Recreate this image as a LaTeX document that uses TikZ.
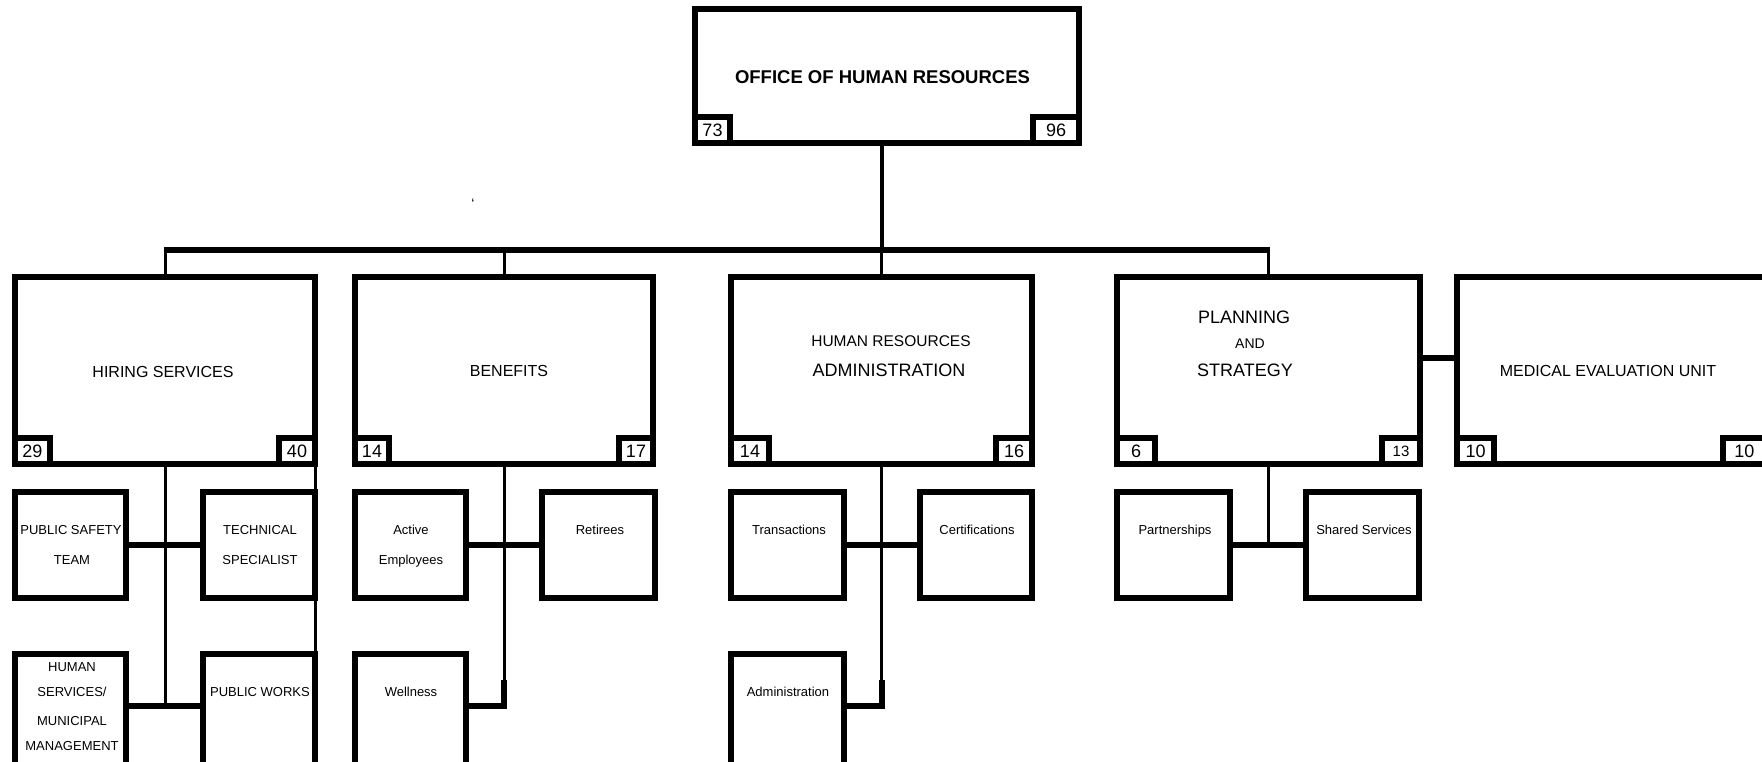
\documentclass[tikz,border=0pt]{standalone}
\usepackage{fontspec}
\setmainfont{Liberation Sans}
\begin{document}
\begin{tikzpicture}[x=1pt,y=-1pt,
  orgbox/.style={draw, line width=6pt, rectangle, inner sep=0pt, outer sep=0pt},
  unitbox/.style={orgbox, minimum height=187pt},
  subbox/.style={orgbox, minimum height=106pt},
  lowbox/.style={orgbox, minimum height=112pt},
  tally/.style={orgbox, minimum height=26pt, font=\fontsize{18}{18}\selectfont},
  lbl/.style={inner sep=0pt, anchor=base, font=\fontsize{#1}{#1}\selectfont},
  riser/.style={line width=4pt},
  dropline/.style={line width=3pt},
  busline/.style={line width=6pt, shorten <=-1.5pt, shorten >=-1.5pt},
  joinline/.style={line width=6pt},
]
\useasboundingbox (0,0) rectangle (1762,762);
\clip (0,0) rectangle (1762,762);

% ---- head office ----
\node[orgbox, minimum width=384pt, minimum height=134pt] (ohr) at (887,76) {};
\node[lbl=18.5] (ohr-t) at (882.5,83.6) {\bfseries OFFICE OF HUMAN RESOURCES};
\node[tally, minimum width=35pt, anchor=south west] (ohr-l) at (ohr.south west) {73};
\node[tally, minimum width=46pt, anchor=south east] (ohr-r) at (ohr.south east) {96};

% ---- divisions ----
\node[unitbox, minimum width=300pt] (hs) at (165,370.5) {};
\node[unitbox, minimum width=298pt] (bf) at (504,370.5) {};
\node[unitbox, minimum width=301pt] (ha) at (881.5,370.5) {};
\node[unitbox, minimum width=303pt] (ps) at (1268.5,370.5) {};
\node[unitbox, minimum width=309pt] (me) at (1611.5,370.5) {};

\node[lbl=16] (hs-t) at (163,377.7) {HIRING SERVICES};
\node[lbl=16] (bf-t) at (509,376.7) {BENEFITS};
\node[lbl=15.5] (ha-t1) at (891,346.5) {HUMAN RESOURCES};
\node[lbl=18] (ha-t2) at (889,376.4) {ADMINISTRATION};
\node[lbl=18] (ps-t1) at (1244,323.4) {PLANNING};
\node[lbl=14] (ps-t2) at (1250,348) {AND};
\node[lbl=18] (ps-t3) at (1245,376.4) {STRATEGY};
\node[lbl=16] (me-t) at (1608,376.7) {MEDICAL EVALUATION UNIT};

\node[tally, minimum width=35pt, anchor=south west] (hs-l) at (hs.south west) {29};
\node[tally, minimum width=36pt, anchor=south east] (hs-r) at (hs.south east) {40};
\node[tally, minimum width=34pt, anchor=south west] (bf-l) at (bf.south west) {14};
\node[tally, minimum width=34pt, anchor=south east] (bf-r) at (bf.south east) {17};
\node[tally, minimum width=38pt, anchor=south west] (ha-l) at (ha.south west) {14};
\node[tally, minimum width=36pt, anchor=south east] (ha-r) at (ha.south east) {16};
\node[tally, minimum width=38pt, anchor=south west] (ps-l) at (ps.south west) {6};
\node[tally, minimum width=38pt, anchor=south east, font=\fontsize{15}{15}\selectfont] (ps-r) at (ps.south east) {13};
\node[tally, minimum width=37pt, anchor=south west] (me-l) at (me.south west) {10};
\node[tally, minimum width=43.5pt, anchor=south east] (me-r) at (me.south east) {10};

% ---- sections ----
\node[subbox, minimum width=111pt] (pst) at (70.5,545) {};
\node[subbox, minimum width=112pt] (tsp) at (259,545) {};
\node[lowbox, minimum width=111pt] (hsm) at (70.5,710) {};
\node[lowbox, minimum width=112pt] (pwk) at (259,710) {};
\node[subbox, minimum width=111pt] (act) at (410.5,545) {};
\node[subbox, minimum width=113pt] (ret) at (598.5,545) {};
\node[lowbox, minimum width=111pt] (wel) at (410.5,710) {};
\node[subbox, minimum width=113pt] (trn) at (787.5,545) {};
\node[subbox, minimum width=112pt] (cer) at (976,545) {};
\node[lowbox, minimum width=113pt] (adm) at (787.5,710) {};
\node[subbox, minimum width=113pt] (par) at (1173.5,545) {};
\node[subbox, minimum width=113pt] (shs) at (1362.5,545) {};

\node[lbl=13] (pst-t1) at (71,534.7) {PUBLIC SAFETY};
\node[lbl=13] (pst-t2) at (72,564.7) {TEAM};
\node[lbl=13] (tsp-t1) at (260,534.7) {TECHNICAL};
\node[lbl=13] (tsp-t2) at (260,564.7) {SPECIALIST};
\node[lbl=13] (hsm-t1) at (72,671.7) {HUMAN};
\node[lbl=13] (hsm-t2) at (72,696.7) {SERVICES/};
\node[lbl=13] (hsm-t3) at (72,725.7) {MUNICIPAL};
\node[lbl=13] (hsm-t4) at (72,750.7) {MANAGEMENT};
\node[lbl=13] (pwk-t) at (260,696.7) {PUBLIC WORKS};
\node[lbl=13] (act-t1) at (411,534.7) {Active};
\node[lbl=13] (act-t2) at (411,564.7) {Employees};
\node[lbl=13] (ret-t) at (600,534.7) {Retirees};
\node[lbl=13] (wel-t) at (411,696.7) {Wellness};
\node[lbl=13] (trn-t) at (789,534.7) {Transactions};
\node[lbl=13] (cer-t) at (977,534.7) {Certifications};
\node[lbl=13] (adm-t) at (788,696.7) {Administration};
\node[lbl=13] (par-t) at (1175,534.7) {Partnerships};
\node[lbl=13] (shs-t) at (1364,534.7) {Shared Services};

\node[lbl=14] (tick) at (473,209) {\symbol{96}};

% ---- connectors ----
\coordinate (bus) at (0,250);
\coordinate (lowjoin) at (0,706);
\coordinate (stub) at (0,680);
\coordinate (side) at (0,358);

\draw[riser] (ha.north |- ohr.south) -- (ha.north |- bus);
\draw[busline] (hs.north |- bus) -- (ps.north |- bus);
\foreach \n in {hs,bf,ha,ps} \draw[dropline] (\n.north |- bus) -- (\n.north);

% hiring services
\draw[dropline] (hs.south) -- (hs.south |- lowjoin);
\draw[dropline] (pwk.north east |- hs.south) -- (pwk.north east);
\draw[joinline] (pst.east) -- (tsp.west);
\draw[joinline] (hsm.east |- lowjoin) -- (pwk.west |- lowjoin);

% benefits
\draw[dropline] (bf.south) -- (bf.south |- lowjoin);
\draw[joinline] (act.east) -- (ret.west);
\draw[joinline] (wel.east |- lowjoin) -| (bf.south |- stub);

% human resources administration
\draw[dropline] (ha.south) -- (ha.south |- lowjoin);
\draw[joinline] (trn.east) -- (cer.west);
\draw[joinline] (adm.east |- lowjoin) -| (ha.south |- stub);

% planning and strategy
\draw[dropline] (ps.south) -- (ps.south |- par.east);
\draw[joinline] (par.east) -- (shs.west);
\draw[joinline] (ps.east |- side) -- (me.west |- side);
\end{tikzpicture}
\end{document}
